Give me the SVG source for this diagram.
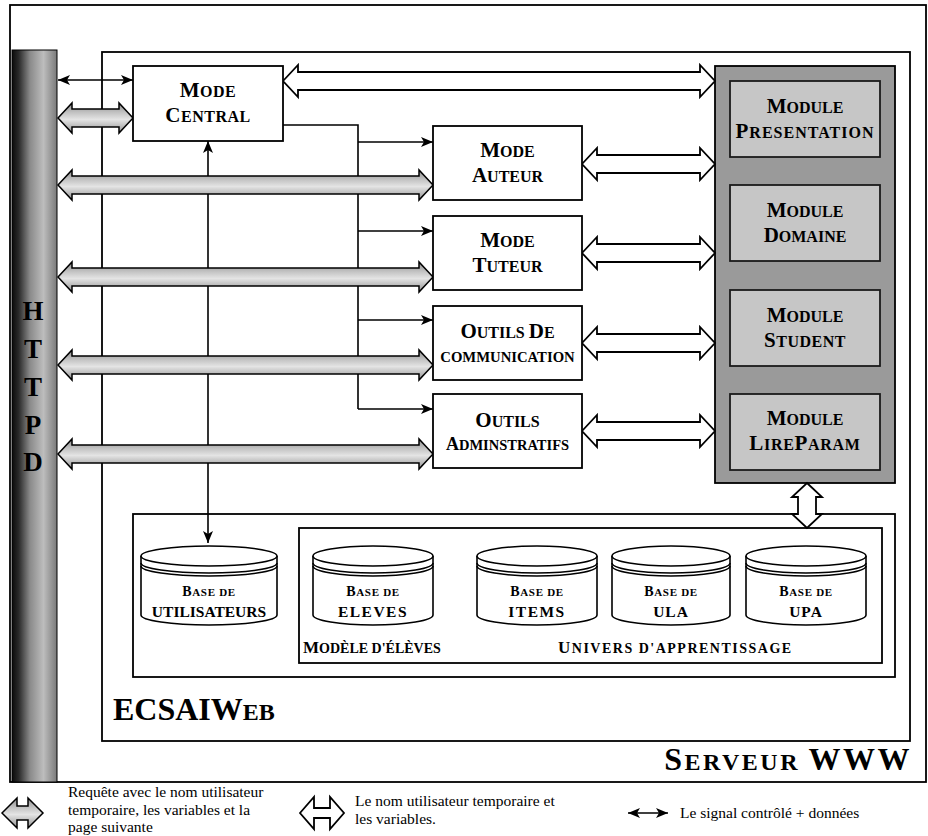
<svg xmlns="http://www.w3.org/2000/svg" width="928" height="836" viewBox="0 0 928 836">
<style>
.frame{fill:none;stroke:#000;stroke-width:1.8}
.box{fill:#fff;stroke:#000;stroke-width:1.8}
.mod{fill:#c6c6c6;stroke:#1a1a1a;stroke-width:1.8}
.cont{fill:#9a9a9a;stroke:#000;stroke-width:1.8}
.fat{fill:url(#fatg);stroke:#000;stroke-width:1.5;stroke-linejoin:miter}
.hol{fill:#fff;stroke:#000;stroke-width:1.8;stroke-linejoin:miter}
.ln{fill:none;stroke:#000;stroke-width:1.6}
.cyl{fill:#fff;stroke:#000;stroke-width:1.6}
.t{font-family:"Liberation Serif",serif;font-weight:bold;fill:#000;text-anchor:middle}
.L{font-size:21px}
.S{font-size:16px}
.lg{font-family:"Liberation Serif",serif;font-size:15.5px;fill:#000}
</style>
<defs>
<linearGradient id="fatg" x1="0" y1="0" x2="0" y2="1">
<stop offset="0" stop-color="#8a8a8a"/>
<stop offset="0.3" stop-color="#c0c0c0"/>
<stop offset="0.55" stop-color="#e4e4e4"/>
<stop offset="1" stop-color="#929292"/>
</linearGradient>
<linearGradient id="barg" x1="0" y1="0" x2="1" y2="0">
<stop offset="0" stop-color="#0a0a0a"/>
<stop offset="0.15" stop-color="#2a2a2a"/>
<stop offset="0.4" stop-color="#8a8a8a"/>
<stop offset="0.7" stop-color="#bdbdbd"/>
<stop offset="1" stop-color="#7a7a7a"/>
</linearGradient>
<marker id="ah" viewBox="0 0 12 10" refX="12" refY="5" markerWidth="12" markerHeight="10" markerUnits="userSpaceOnUse" orient="auto-start-reverse">
<path d="M0,0 L12,5 L0,10 L3,5 Z" fill="#000"/>
</marker>
</defs>
<rect width="928" height="836" fill="#fff"/>

<g id="serveur-www">
<rect class="frame" x="10" y="5" width="916" height="777"/>
<text class="t" x="912" y="770" style="text-anchor:end" letter-spacing="2.5"><tspan font-size="32">S</tspan><tspan font-size="24">ERVEUR </tspan><tspan font-size="32">WWW</tspan></text>
</g>

<g id="ecsaiweb">
<rect class="frame" x="102" y="52" width="808" height="689"/>
<text class="t" x="113" y="720" style="text-anchor:start"><tspan font-size="32">ECSAIW</tspan><tspan font-size="24">EB</tspan></text>
</g>

<g id="httpd">
<rect x="12" y="50" width="45" height="732" fill="url(#barg)" stroke="#000" stroke-width="1"/>
<text class="t" x="33" y="320" font-size="27">H</text>
<text class="t" x="33" y="358" font-size="27">T</text>
<text class="t" x="33" y="396" font-size="27">T</text>
<text class="t" x="33" y="434" font-size="27">P</text>
<text class="t" x="33" y="471" font-size="27">D</text>
</g>

<g id="modules">
<rect class="cont" x="715" y="66" width="180" height="417"/>
</g>

<g id="db-zone">
<rect class="frame" x="133" y="514" width="762" height="163"/>
</g>
<g id="univers">
<rect class="frame" x="299" y="528" width="583" height="135"/>
<text class="t" x="303" y="653" style="text-anchor:start"><tspan font-size="17">M</tspan><tspan font-size="14">ODÈLE D'ÉLÈVES</tspan></text>
<text class="t" x="558" y="653" style="text-anchor:start" letter-spacing="1.5"><tspan font-size="17">U</tspan><tspan font-size="14">NIVERS D'APPRENTISSAGE</tspan></text>
</g>

<g id="connectors">
<line class="ln" x1="58" y1="80" x2="133" y2="80" marker-start="url(#ah)" marker-end="url(#ah)"/>
<path class="ln" d="M283,125 H358 V409"/>
<line class="ln" x1="358" y1="142" x2="433" y2="142" marker-end="url(#ah)"/>
<line class="ln" x1="358" y1="231" x2="433" y2="231" marker-end="url(#ah)"/>
<line class="ln" x1="358" y1="320" x2="433" y2="320" marker-end="url(#ah)"/>
<line class="ln" x1="358" y1="409" x2="433" y2="409" marker-end="url(#ah)"/>
<line class="ln" x1="208" y1="141" x2="208" y2="543" marker-start="url(#ah)" marker-end="url(#ah)"/>
<path class="fat" d="M58,118 L72,103 L72,109 L119,109 L119,103 L133,118 L119,133 L119,127 L72,127 L72,133 Z"/>
<path class="fat" d="M58,185 L72,170 L72,176 L419,176 L419,170 L433,185 L419,200 L419,194 L72,194 L72,200 Z"/>
<path class="fat" d="M58,277 L72,262 L72,268 L419,268 L419,262 L433,277 L419,292 L419,286 L72,286 L72,292 Z"/>
<path class="fat" d="M58,365 L72,350 L72,356 L419,356 L419,350 L433,365 L419,380 L419,374 L72,374 L72,380 Z"/>
<path class="fat" d="M58,454 L72,439 L72,445 L419,445 L419,439 L433,454 L419,469 L419,463 L72,463 L72,469 Z"/>
<path class="hol" d="M283,81 L298,65 L298,72 L700,72 L700,65 L715,81 L700,97 L700,90 L298,90 L298,97 Z"/>
<path class="hol" d="M582,164 L597,148 L597,155 L700,155 L700,148 L715,164 L700,180 L700,173 L597,173 L597,180 Z"/>
<path class="hol" d="M582,253 L597,237 L597,244 L700,244 L700,237 L715,253 L700,269 L700,262 L597,262 L597,269 Z"/>
<path class="hol" d="M582,343 L597,327 L597,334 L700,334 L700,327 L715,343 L700,359 L700,352 L597,352 L597,359 Z"/>
<path class="hol" d="M582,431 L597,415 L597,422 L700,422 L700,415 L715,431 L700,447 L700,440 L597,440 L597,447 Z"/>
<path class="hol" d="M807,483 L822,497 L816,497 L816,514 L822,514 L807,528 L792,514 L798,514 L798,497 L792,497 Z"/>
</g>

<g id="mode-central">
<rect class="box" x="133" y="66" width="150" height="75"/>
<text class="t" x="208" y="97" letter-spacing="0.5"><tspan class="L">M</tspan><tspan class="S">ODE</tspan></text>
<text class="t" x="208" y="122" letter-spacing="0.5"><tspan class="L">C</tspan><tspan class="S">ENTRAL</tspan></text>
</g>
<g id="mode-auteur">
<rect class="box" x="433" y="126" width="149" height="74"/>
<text class="t" x="507.5" y="157"><tspan class="L">M</tspan><tspan class="S">ODE</tspan></text>
<text class="t" x="507.5" y="182"><tspan class="L">A</tspan><tspan class="S">UTEUR</tspan></text>
</g>
<g id="mode-tuteur">
<rect class="box" x="433" y="216" width="149" height="74"/>
<text class="t" x="507.5" y="247"><tspan class="L">M</tspan><tspan class="S">ODE</tspan></text>
<text class="t" x="507.5" y="272"><tspan class="L">T</tspan><tspan class="S">UTEUR</tspan></text>
</g>
<g id="outils-communication">
<rect class="box" x="433" y="306" width="149" height="74"/>
<text class="t" x="507.5" y="338"><tspan class="L">O</tspan><tspan class="S">UTILS </tspan><tspan class="L">D</tspan><tspan class="S">E</tspan></text>
<text class="t" x="507.5" y="362" font-size="14.7">COMMUNICATION</text>
</g>
<g id="outils-administratifs">
<rect class="box" x="433" y="394" width="149" height="74"/>
<text class="t" x="507.5" y="427"><tspan class="L">O</tspan><tspan class="S">UTILS</tspan></text>
<text class="t" x="507.5" y="450"><tspan font-size="18">A</tspan><tspan font-size="14.5">DMINSTRATIFS</tspan></text>
</g>

<g id="module-presentation">
<rect class="mod" x="730" y="81" width="150" height="76"/>
<text class="t" x="805" y="113"><tspan class="L">M</tspan><tspan class="S">ODULE</tspan></text>
<text class="t" x="805" y="138" letter-spacing="1"><tspan class="L">P</tspan><tspan class="S">RESENTATION</tspan></text>
</g>
<g id="module-domaine">
<rect class="mod" x="730" y="185" width="150" height="76"/>
<text class="t" x="805" y="217"><tspan class="L">M</tspan><tspan class="S">ODULE</tspan></text>
<text class="t" x="805" y="242"><tspan class="L">D</tspan><tspan class="S">OMAINE</tspan></text>
</g>
<g id="module-student">
<rect class="mod" x="730" y="290" width="150" height="76"/>
<text class="t" x="805" y="322"><tspan class="L">M</tspan><tspan class="S">ODULE</tspan></text>
<text class="t" x="805" y="347" letter-spacing="0.5"><tspan class="L">S</tspan><tspan class="S">TUDENT</tspan></text>
</g>
<g id="module-lireparam">
<rect class="mod" x="730" y="394" width="150" height="76"/>
<text class="t" x="805" y="425"><tspan class="L">M</tspan><tspan class="S">ODULE</tspan></text>
<text class="t" x="805" y="450" letter-spacing="0.7"><tspan class="L">L</tspan><tspan class="S">IRE</tspan><tspan class="L">P</tspan><tspan class="S">ARAM</tspan></text>
</g>

<g id="base-utilisateurs">
<path class="cyl" d="M141,556 V615 A68,10 0 0 0 277,615 V556"/>
<ellipse class="cyl" cx="209" cy="556" rx="68" ry="10"/>
<path class="ln" d="M141,563 A68,10 0 0 0 277,563 M141,566 A68,10 0 0 0 277,566"/>
<text class="t" x="209" y="596" letter-spacing="0.7"><tspan font-size="14">B</tspan><tspan font-size="11">ASE DE</tspan></text>
<text class="t" x="209" y="617" font-size="15.5">UTILISATEURS</text>
</g>
<g id="base-eleves">
<path class="cyl" d="M313,556 V615 A60,10 0 0 0 433,615 V556"/>
<ellipse class="cyl" cx="373" cy="556" rx="60" ry="10"/>
<path class="ln" d="M313,563 A60,10 0 0 0 433,563 M313,566 A60,10 0 0 0 433,566"/>
<text class="t" x="373" y="596" letter-spacing="0.7"><tspan font-size="14">B</tspan><tspan font-size="11">ASE DE</tspan></text>
<text class="t" x="373" y="617" font-size="15.5" letter-spacing="1.5">ELEVES</text>
</g>
<g id="base-items">
<path class="cyl" d="M477,556 V615 A60,10 0 0 0 597,615 V556"/>
<ellipse class="cyl" cx="537" cy="556" rx="60" ry="10"/>
<path class="ln" d="M477,563 A60,10 0 0 0 597,563 M477,566 A60,10 0 0 0 597,566"/>
<text class="t" x="537" y="596" letter-spacing="0.7"><tspan font-size="14">B</tspan><tspan font-size="11">ASE DE</tspan></text>
<text class="t" x="537" y="617" font-size="15.5" letter-spacing="1.5">ITEMS</text>
</g>
<g id="base-ula">
<path class="cyl" d="M612,556 V615 A59,10 0 0 0 730,615 V556"/>
<ellipse class="cyl" cx="671" cy="556" rx="59" ry="10"/>
<path class="ln" d="M612,563 A59,10 0 0 0 730,563 M612,566 A59,10 0 0 0 730,566"/>
<text class="t" x="671" y="596" letter-spacing="0.7"><tspan font-size="14">B</tspan><tspan font-size="11">ASE DE</tspan></text>
<text class="t" x="671" y="617" font-size="15.5" letter-spacing="1">ULA</text>
</g>
<g id="base-upa">
<path class="cyl" d="M746,556 V615 A60,10 0 0 0 866,615 V556"/>
<ellipse class="cyl" cx="806" cy="556" rx="60" ry="10"/>
<path class="ln" d="M746,563 A60,10 0 0 0 866,563 M746,566 A60,10 0 0 0 866,566"/>
<text class="t" x="806" y="596" letter-spacing="0.7"><tspan font-size="14">B</tspan><tspan font-size="11">ASE DE</tspan></text>
<text class="t" x="806" y="617" font-size="15.5" letter-spacing="1">UPA</text>
</g>

<g id="legend">
<path class="fat" d="M2,813 L17,798 L17,806 L28,806 L28,798 L43,813 L28,828 L28,820 L17,820 L17,828 Z"/>
<text class="lg" x="68" y="797">Requête avec le nom utilisateur</text>
<text class="lg" x="68" y="814.5">temporaire, les variables et la</text>
<text class="lg" x="68" y="832">page suivante</text>
<path class="hol" d="M300,813 L314,797 L314,808 L330,808 L330,797 L344,813 L330,829 L330,818 L314,818 L314,829 Z"/>
<text class="lg" x="355" y="806">Le nom utilisateur temporaire et</text>
<text class="lg" x="355" y="823.5">les variables.</text>
<line class="ln" x1="628" y1="813" x2="668" y2="813" marker-start="url(#ah)" marker-end="url(#ah)"/>
<text class="lg" x="680" y="818">Le signal contrôlé + données</text>
</g>
</svg>
